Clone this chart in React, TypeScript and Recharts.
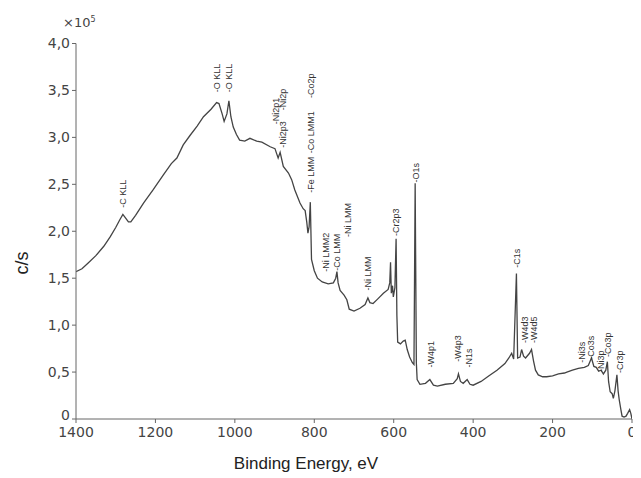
import React from 'react';
import { ComposedChart, Line, Scatter, XAxis, YAxis } from 'recharts';

// binding energy (eV) and intensity (c/s, x10^5)
const bindingEnergy = [
  1400, 1385, 1370, 1350, 1330, 1314, 1300, 1290, 1282, 1275, 1268, 1262, 1250, 1230, 1206, 1180,
  1160, 1146, 1130, 1113, 1095, 1079, 1060, 1046, 1040, 1032, 1027, 1020, 1015, 1010, 1004, 996,
  988, 975, 962, 945, 932, 911, 899, 895, 891, 886, 878, 865, 857, 849, 836, 828,
  823, 819, 816, 813, 810, 807, 800, 792, 780, 765, 752, 746, 743, 740, 735, 725,
  718, 712, 700, 685, 672, 665, 660, 652, 640, 626, 614, 610, 608, 606, 603, 601,
  597, 594, 592, 590, 583, 576, 571, 566, 560, 553, 549, 546, 543, 541, 534, 520,
  509, 500, 490, 470, 450, 440, 437, 432, 425, 415, 408, 400, 380, 360, 340, 320,
  310, 303, 298, 291, 288, 282, 278, 273, 268, 258, 253, 248, 243, 236, 225, 215,
  200, 185, 170, 164, 150, 135, 120, 110, 102, 96, 90, 84, 78, 72, 66, 62,
  59, 55, 50, 47, 43, 38, 35, 32, 28, 25, 20, 15, 11, 6, 3, 0,
];
const counts = [
  1.57, 1.6, 1.66, 1.74, 1.84, 1.94, 2.04, 2.12, 2.18, 2.14, 2.1, 2.1, 2.17, 2.3, 2.44, 2.6,
  2.72, 2.78, 2.92, 3.02, 3.12, 3.22, 3.3, 3.37, 3.36, 3.25, 3.17, 3.25, 3.39, 3.22, 3.11, 3.03,
  2.97, 2.96, 2.99, 2.96, 2.95, 2.9, 2.88, 2.83, 2.78, 2.84, 2.69, 2.62, 2.55, 2.44, 2.3, 2.24,
  2.22, 2.1, 1.98, 2.05, 2.31, 1.7, 1.58, 1.5, 1.46, 1.44, 1.45, 1.5, 1.57, 1.45, 1.37, 1.32,
  1.27, 1.17, 1.15, 1.18, 1.22, 1.29, 1.24, 1.23, 1.28, 1.34, 1.38, 1.45, 1.67, 1.34, 1.42, 1.3,
  1.4, 1.92, 1.1, 0.82, 0.8, 0.83, 0.84, 0.74, 0.66, 0.6, 0.58, 2.51, 0.6, 0.42, 0.37, 0.38,
  0.42, 0.36, 0.35, 0.37, 0.38, 0.43, 0.48, 0.4, 0.38, 0.42, 0.37, 0.36, 0.4, 0.46, 0.52, 0.59,
  0.65, 0.7, 0.64, 1.55, 0.65, 0.66, 0.74, 0.67, 0.65, 0.7, 0.74, 0.62, 0.52, 0.47, 0.45, 0.45,
  0.46, 0.48, 0.49, 0.5, 0.52, 0.54, 0.55, 0.57, 0.65, 0.56, 0.55, 0.51, 0.52, 0.48, 0.52, 0.61,
  0.4, 0.29, 0.27, 0.22, 0.3, 0.47, 0.3, 0.2, 0.1, 0.03, 0.02, 0.03, 0.06, 0.1, 0.06, 0,
];

// peak annotations: name, energy, where the rotated text starts
const peakNames = [
  '-C KLL', '-O KLL', '-O KLL', '-Ni2p1', '-Ni2p3', '-Ni2p', '-Fe LMM', '-Co LMM1', '-Co2p',
  '-Ni LMM2', '-Co LMM', '-Ni LMM', '-Ni LMM', '-Cr2p3', '-O1s', '-W4p1', '-W4p3', '-N1s',
  '-C1s', '-W4d3', '-W4d5', '-Ni3s', '-Co3s', '-Ni3p', '-Co3p', '-Cr3p',
];
const peakEnergy = [
  1282, 1045, 1015, 896, 879, 879, 809, 809, 809,
  770, 743, 715, 665, 594, 544, 506, 438, 410,
  290, 269, 247, 126, 103, 78, 60, 30,
];
const peakLabelY = [
  2.25, 3.48, 3.48, 3.14, 2.89, 3.29, 2.41, 2.83, 3.42,
  1.57, 1.58, 1.94, 1.37, 1.95, 2.52, 0.55, 0.61, 0.55,
  1.61, 0.81, 0.81, 0.6, 0.63, 0.5, 0.66, 0.49,
];

const xTicks = [0, 200, 400, 600, 800, 1000, 1200, 1400];
const yTicks = [0, 0.5, 1, 1.5, 2, 2.5, 3, 3.5, 4];

const spectrum = bindingEnergy.map((e, i) => ({ e, y: counts[i] }));
const peaks = peakNames.map((name, i) => ({ e: peakEnergy[i], y: peakLabelY[i], name }));

const PeakLabel = (props: any) => {
  const { cx, cy, payload } = props;
  return (
    <text
      x={cx}
      y={cy}
      transform={`rotate(-90 ${cx} ${cy})`}
      textAnchor="start"
      dominantBaseline="central"
      fontSize={9}
      fontFamily="'Liberation Sans Narrow', 'Liberation Sans', sans-serif"
      fill="#333"
    >
      {payload.name}
    </text>
  );
};

const tickStyle = { fontSize: 14, fontFamily: "'DejaVu Sans', sans-serif", fill: '#444' };

// y tick with the comma decimal; the 0 sits a bit higher so it clears the 1400
const YTick = (props: any) => {
  const { x, y, payload } = props;
  const v = payload.value as number;
  const label = v === 0 ? '0' : v.toFixed(1).replace('.', ',');
  return (
    <text x={x} y={v === 0 ? y - 4 : y} dy="0.355em" textAnchor="end" {...tickStyle}>
      {label}
    </text>
  );
};

export default function App() {
  return (
    <div style={{ position: 'relative', width: 630, height: 470 }}>
      <ComposedChart
        width={630}
        height={462}
        margin={{ top: 35.5, right: 6, left: 18, bottom: 26 }}
      >
        <XAxis
          dataKey="e"
          type="number"
          domain={[0, 1400]}
          ticks={xTicks}
          reversed
          stroke="#666"
          tickSize={4}
          tickMargin={4}
          tick={tickStyle}
          height={25}
          allowDataOverflow
        />
        <YAxis
          type="number"
          domain={[0, 4]}
          ticks={yTicks}
          stroke="#666"
          tickSize={4}
          width={50}
          tick={<YTick />}
        />
        <Line
          data={spectrum}
          dataKey="y"
          type="linear"
          stroke="#444"
          strokeWidth={1.3}
          dot={false}
          isAnimationActive={false}
        />
        <Scatter data={peaks} dataKey="y" shape={PeakLabel} isAnimationActive={false} />
      </ComposedChart>
      <div
        style={{
          position: 'absolute', left: 55, top: 7, fontSize: 13, color: '#444',
          fontFamily: "'DejaVu Sans', sans-serif",
        }}
      >
        ×10<sup style={{ fontSize: 8 }}>5</sup>
      </div>
      <div
        style={{
          position: 'absolute', left: 0, top: 243, width: 28, height: 24, fontSize: 18,
          lineHeight: '24px', textAlign: 'center', transform: 'rotate(-90deg)',
          fontFamily: "'Liberation Sans', Arial, sans-serif", color: '#222',
        }}
      >
        c/s
      </div>
      <div
        style={{
          position: 'absolute', left: 198, top: 446, width: 200, textAlign: 'center',
          fontSize: 17, lineHeight: '20px', fontFamily: "'Liberation Sans', Arial, sans-serif",
          color: '#222',
        }}
      >
        Binding Energy, eV
      </div>
    </div>
  );
}
